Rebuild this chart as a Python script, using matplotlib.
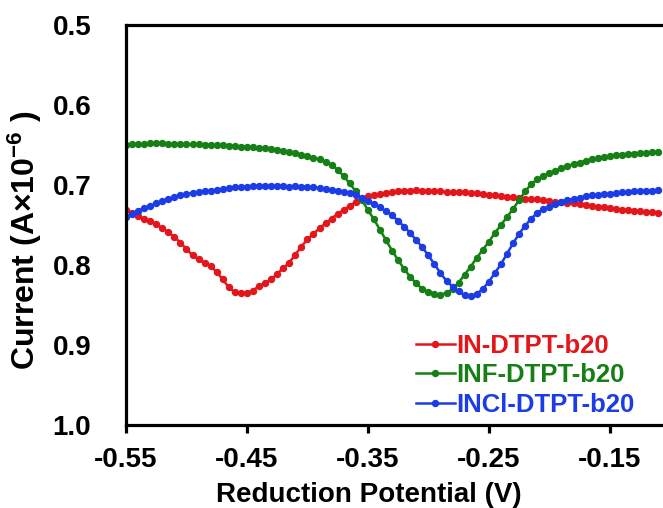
import numpy as np
import matplotlib
matplotlib.use('Agg')
import matplotlib.pyplot as plt

plt.rcParams['font.family'] = ['Liberation Sans', 'DejaVu Sans']
plt.rcParams['font.weight'] = 'bold'
plt.rcParams['mathtext.fontset'] = 'custom'
plt.rcParams['mathtext.rm'] = 'Liberation Sans:bold'
plt.rcParams['mathtext.bf'] = 'Liberation Sans:bold'
plt.rcParams['mathtext.default'] = 'bf'

# potential sweep (V)
potential = [
    -0.550, -0.545, -0.540, -0.535, -0.530, -0.525, -0.520, -0.515, -0.510, -0.505,
    -0.500, -0.495, -0.490, -0.485, -0.480, -0.475, -0.470, -0.465, -0.460, -0.455,
    -0.450, -0.445, -0.440, -0.435, -0.430, -0.425, -0.420, -0.415, -0.410, -0.405,
    -0.400, -0.395, -0.390, -0.385, -0.380, -0.375, -0.370, -0.365, -0.360, -0.355,
    -0.350, -0.345, -0.340, -0.335, -0.330, -0.325, -0.320, -0.315, -0.310, -0.305,
    -0.300, -0.295, -0.290, -0.285, -0.280, -0.275, -0.270, -0.265, -0.260, -0.255,
    -0.250, -0.245, -0.240, -0.235, -0.230, -0.225, -0.220, -0.215, -0.210, -0.205,
    -0.200, -0.195, -0.190, -0.185, -0.180, -0.175, -0.170, -0.165, -0.160, -0.155,
    -0.150, -0.145, -0.140, -0.135, -0.130, -0.125, -0.120, -0.115, -0.110,
]

# current (A x 1e-6)
in_dtpt = [
    0.731, 0.735, 0.739, 0.742, 0.745, 0.749, 0.754, 0.759, 0.765, 0.772,
    0.780, 0.788, 0.793, 0.797, 0.801, 0.809, 0.818, 0.828, 0.834, 0.835,
    0.835, 0.832, 0.826, 0.823, 0.818, 0.811, 0.804, 0.797, 0.787, 0.777,
    0.768, 0.761, 0.754, 0.748, 0.742, 0.736, 0.731, 0.726, 0.721, 0.717,
    0.714, 0.712, 0.711, 0.710, 0.709, 0.708, 0.707, 0.707, 0.706, 0.707,
    0.707, 0.708, 0.708, 0.709, 0.709, 0.709, 0.709, 0.710, 0.710, 0.711,
    0.712, 0.713, 0.714, 0.715, 0.715, 0.716, 0.717, 0.718, 0.718, 0.719,
    0.720, 0.721, 0.721, 0.722, 0.723, 0.724, 0.725, 0.726, 0.727, 0.728,
    0.729, 0.730, 0.731, 0.731, 0.732, 0.733, 0.734, 0.734, 0.735,
]
inf_dtpt = [
    0.650, 0.649, 0.649, 0.649, 0.648, 0.648, 0.648, 0.649, 0.649, 0.649,
    0.649, 0.649, 0.649, 0.650, 0.650, 0.650, 0.650, 0.651, 0.651, 0.652,
    0.652, 0.653, 0.654, 0.654, 0.655, 0.656, 0.657, 0.659, 0.660, 0.662,
    0.664, 0.666, 0.668, 0.671, 0.675, 0.681, 0.689, 0.698, 0.708, 0.719,
    0.731, 0.743, 0.756, 0.769, 0.782, 0.794, 0.805, 0.815, 0.823, 0.830,
    0.834, 0.836, 0.837, 0.835, 0.830, 0.822, 0.812, 0.802, 0.791, 0.781,
    0.771, 0.760, 0.750, 0.740, 0.730, 0.719, 0.708, 0.699, 0.693, 0.689,
    0.685, 0.682, 0.679, 0.676, 0.674, 0.672, 0.670, 0.668, 0.666, 0.665,
    0.664, 0.663, 0.662, 0.661, 0.661, 0.660, 0.660, 0.659, 0.659,
]
incl_dtpt = [
    0.740, 0.736, 0.732, 0.729, 0.726, 0.723, 0.720, 0.718, 0.715, 0.713,
    0.711, 0.710, 0.709, 0.708, 0.707, 0.706, 0.705, 0.704, 0.703, 0.702,
    0.702, 0.701, 0.701, 0.701, 0.701, 0.701, 0.701, 0.702, 0.701, 0.702,
    0.702, 0.703, 0.704, 0.705, 0.706, 0.707, 0.709, 0.710, 0.713, 0.716,
    0.720, 0.724, 0.728, 0.733, 0.738, 0.745, 0.752, 0.760, 0.769, 0.778,
    0.788, 0.799, 0.810, 0.820, 0.827, 0.833, 0.838, 0.839, 0.836, 0.830,
    0.821, 0.810, 0.799, 0.786, 0.773, 0.761, 0.751, 0.742, 0.735, 0.730,
    0.727, 0.724, 0.721, 0.719, 0.717, 0.716, 0.714, 0.713, 0.712, 0.711,
    0.711, 0.710, 0.709, 0.709, 0.708, 0.708, 0.707, 0.707, 0.706,
]

labels = ['IN-DTPT-b20', 'INF-DTPT-b20', 'INCl-DTPT-b20']
colors = ['#e3161c', '#167f16', '#1c3ce6']
x_ticks = [-0.55, -0.45, -0.35, -0.25, -0.15]
y_ticks = [0.5, 0.6, 0.7, 0.8, 0.9, 1.0]

fig = plt.figure(figsize=(6.63, 5.08), dpi=100)
ax = fig.add_axes([126 / 663, 1 - 425 / 508, 1 - 126 / 663, 400 / 508])

for y, lab, c in zip([in_dtpt, inf_dtpt, incl_dtpt], labels, colors):
    ax.plot(potential, y, color=c, lw=1.8, marker='o', ms=4.3,
            mec=c, mfc=c, label=lab)

ax.set_xlim(-0.55, -0.106)
ax.set_ylim(1.0, 0.5)
ax.set_xticks(x_ticks)
ax.set_xticklabels(['%.2f' % v for v in x_ticks])
ax.set_yticks(y_ticks)
ax.set_yticklabels(['%.1f' % v for v in y_ticks])

for s in ['left', 'bottom', 'top']:
    ax.spines[s].set_linewidth(2.3)
ax.spines['right'].set_visible(False)
ax.tick_params(axis='x', direction='out', length=6, width=2.3, pad=10, labelsize=20)
ax.tick_params(axis='y', length=0, pad=25, labelsize=20)

ax.set_xlabel('Reduction Potential (V)', fontsize=20, fontweight='bold')
ax.xaxis.set_label_coords(0.452, -0.142)
ax.set_ylabel('Current (A\u00d710$^{-6}$ )', fontsize=23, fontweight='bold')
ax.yaxis.set_label_coords(-0.152, 0.4625)

leg = ax.legend(loc='lower left', bbox_to_anchor=(0.54, 0.02), frameon=False,
                fontsize=18.5, handlelength=1.5, handletextpad=0.06,
                labelspacing=0.22, borderpad=0, borderaxespad=0)
for txt, c in zip(leg.get_texts(), colors):
    txt.set_color(c)

fig.savefig('out.png', dpi=100)
